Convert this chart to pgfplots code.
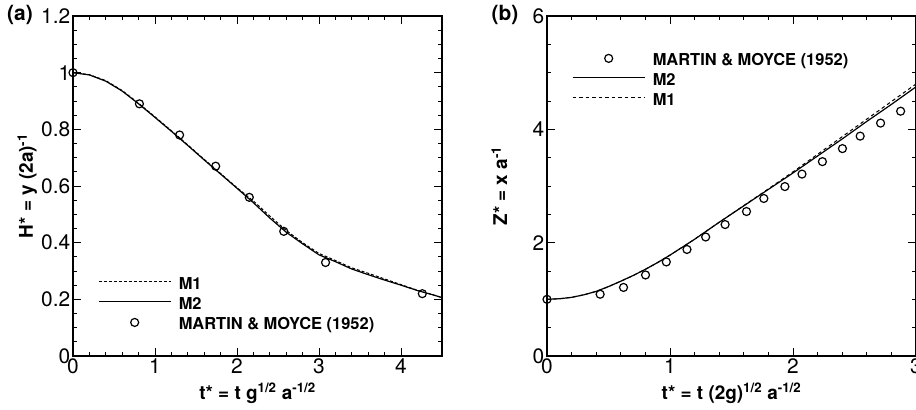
\documentclass[border=0pt]{standalone}
\usepackage{fontspec}
\setmainfont{TeX Gyre Heros}
\usepackage{pgfplots}
\pgfplotsset{compat=1.18}

\pgfplotsset{
  tecstyle/.style={
    scale only axis, width=369bp, height=340bp,
    anchor=south west, clip mode=individual,
    axis line style={line width=1.2bp},
    tick style={line width=0.9bp, black},
    major tick length=8bp, minor tick length=4bp,
    tick align=inside,
    xtick pos=both, ytick pos=both,
    /pgf/number format/assume math mode=true,
    ticklabel style={font=\fontsize{21}{24}\selectfont},
    xticklabel style={inner sep=1bp, yshift=-1bp},
    yticklabel style={inner sep=2.5bp},
    every axis x label/.style={at={(rel axis cs:0.5,0)}, anchor=base, yshift=-43bp, font=\fontsize{19}{22}\selectfont\bfseries},
    every axis y label/.style={at={(rel axis cs:0,0.5)}, xshift=-40bp, rotate=90, anchor=base, font=\fontsize{19}{22}\selectfont\bfseries},
    legend style={draw=none, fill=none, inner sep=0pt, outer sep=0pt,
      font=\fontsize{16.5}{18}\selectfont\bfseries,
      nodes={inner sep=1.5bp, text height=12bp, text depth=3bp},
      row sep=2bp, column sep=6bp},
    legend cell align=left,
  },
  lineleg/.style={legend image code/.code={\draw[##1] (0bp,4bp) -- (72bp,4bp);}},
  markleg/.style={legend image code/.code={\draw[##1] plot coordinates {(36bp,3bp)};}},
}

\pgfplotstableread{
t H
0.0 1.000
0.2 0.992
0.4 0.970
0.6 0.935
0.8 0.890
1.0 0.842
1.2 0.793
1.4 0.743
1.6 0.692
1.8 0.642
2.0 0.592
2.2 0.541
2.4 0.487
2.6 0.437
2.8 0.396
3.0 0.357
3.2 0.333
3.4 0.307
3.6 0.287
3.8 0.268
4.0 0.250
4.2 0.231
4.4 0.215
4.5 0.206
}\leftMtwo

\pgfplotstableread{
t H
0.0 1.000
0.2 0.993
0.4 0.972
0.6 0.937
0.8 0.892
1.0 0.844
1.2 0.795
1.4 0.745
1.6 0.694
1.8 0.644
2.0 0.594
2.2 0.547
2.4 0.494
2.6 0.443
2.8 0.400
3.0 0.362
3.2 0.337
3.4 0.311
3.6 0.292
3.8 0.272
4.0 0.252
4.2 0.232
4.4 0.215
4.5 0.206
}\leftMone

\pgfplotstableread{
t H
0.00 1.00
0.81 0.89
1.30 0.78
1.74 0.67
2.15 0.56
2.57 0.44
3.08 0.33
4.26 0.22
}\leftExp

\pgfplotstableread{
t Z
0.0 1.000
0.1 1.010
0.2 1.035
0.3 1.080
0.4 1.140
0.5 1.225
0.6 1.320
0.7 1.420
0.8 1.530
0.9 1.650
1.0 1.780
1.1 1.920
1.2 2.060
1.4 2.360
1.6 2.650
1.8 2.940
2.0 3.230
2.2 3.530
2.4 3.830
2.6 4.140
2.8 4.440
3.0 4.750
}\rightMtwo

\pgfplotstableread{
t Z
0.0 1.000
0.1 1.010
0.2 1.035
0.3 1.080
0.4 1.140
0.5 1.225
0.6 1.320
0.7 1.420
0.8 1.530
0.9 1.650
1.0 1.780
1.1 1.920
1.2 2.060
1.4 2.360
1.6 2.655
1.8 2.950
2.0 3.250
2.2 3.560
2.4 3.870
2.6 4.180
2.8 4.490
3.0 4.800
}\rightMone

\pgfplotstableread{
t Z
0.000 1.00
0.432 1.09
0.622 1.21
0.801 1.43
0.970 1.66
1.138 1.88
1.290 2.10
1.448 2.32
1.622 2.55
1.763 2.78
1.934 2.99
2.073 3.21
2.239 3.43
2.402 3.66
2.546 3.88
2.712 4.11
2.875 4.32
}\rightExp

\begin{document}
\begin{tikzpicture}
\begin{axis}[tecstyle, at={(73bp,54bp)},
  xmin=0, xmax=4.5, ymin=0, ymax=1.2,
  xtick={0,1,2,3,4}, minor x tick num=4,
  ytick={0,0.2,0.4,0.6,0.8,1,1.2}, minor y tick num=3,
  xlabel={t* = t g\textsuperscript{1/2} a\textsuperscript{-1/2}},
  ylabel={H* = y (2a)\textsuperscript{-1}},
  legend style={at={(rel axis cs:0.068,0.234)}, anchor=north west},
]
\addplot[black, line width=1bp, dash pattern=on 3bp off 2bp, lineleg] table[x=t,y=H] {\leftMone};
\addlegendentry{M1}
\addplot[black, line width=1.2bp, lineleg] table[x=t,y=H] {\leftMtwo};
\addlegendentry{M2}
\addplot[black, only marks, mark=o, mark size=4bp, mark options={line width=1.2bp}, markleg] table[x=t,y=H] {\leftExp};
\addlegendentry{MARTIN \& MOYCE (1952)}
\node[font=\fontsize{21}{24}\selectfont\bfseries, anchor=center] at ([xshift=-53bp, yshift=1bp]rel axis cs:0,1) {(a)};
\end{axis}

\begin{axis}[tecstyle, at={(547bp,54bp)},
  xmin=0, xmax=3, ymin=0, ymax=6,
  xtick={0,1,2,3}, minor x tick num=4,
  ytick={0,2,4,6}, minor y tick num=3,
  xlabel={t* = t (2g)\textsuperscript{1/2} a\textsuperscript{-1/2}},
  ylabel={Z* = x a\textsuperscript{-1}},
  legend style={at={(rel axis cs:0.068,0.893)}, anchor=north west},
]
\addplot[black, only marks, mark=o, mark size=4bp, mark options={line width=1.2bp}, markleg] table[x=t,y=Z] {\rightExp};
\addlegendentry{MARTIN \& MOYCE (1952)}
\addplot[black, line width=1.2bp, lineleg] table[x=t,y=Z] {\rightMtwo};
\addlegendentry{M2}
\addplot[black, line width=1bp, dash pattern=on 3.5bp off 3bp, lineleg] table[x=t,y=Z] {\rightMone};
\addlegendentry{M1}
\node[font=\fontsize{21}{24}\selectfont\bfseries, anchor=center] at ([xshift=-42bp, yshift=1bp]rel axis cs:0,1) {(b)};
\end{axis}
\pgfresetboundingbox
\path[use as bounding box] (0,0) rectangle (916bp,410bp);
\end{tikzpicture}
\end{document}
